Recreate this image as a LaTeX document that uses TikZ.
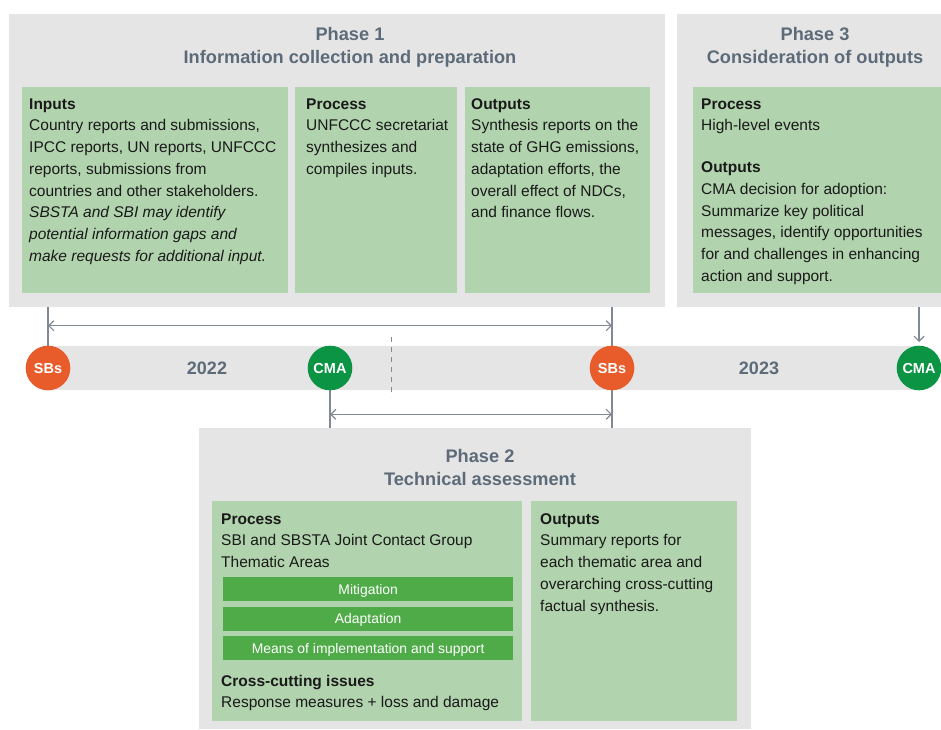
\documentclass[tikz,border=0pt]{standalone}
\usepackage{fontspec}
\setmainfont{Liberation Sans}
\usetikzlibrary{arrows.meta}

\definecolor{panelgray}{HTML}{E5E5E5}
\definecolor{cardgreen}{HTML}{B1D3AD}
\definecolor{bargreen}{HTML}{4EAB47}
\definecolor{sborange}{HTML}{E85C2C}
\definecolor{cmagreen}{HTML}{0B9444}
\definecolor{titlegray}{HTML}{5D6B79}
\definecolor{linkgray}{HTML}{808A95}
\definecolor{ink}{HTML}{1A1A1A}

% fixed-height first line, so a text block's top sits 12pt above its first baseline
\newcommand{\firstline}{\rule{0pt}{12pt}}

\begin{document}
\begin{tikzpicture}[x=1pt,y=-1pt,
  panel/.style={fill=panelgray, draw=none, anchor=north west, inner sep=0pt},
  card/.style={fill=cardgreen, draw=none, anchor=north west, inner sep=0pt},
  areabar/.style={fill=bargreen, draw=none, anchor=north west, inner sep=0pt,
    minimum width=290pt, minimum height=24pt, text=white,
    text height=10pt, text depth=0pt,
    font=\fontsize{13.9}{16}\selectfont},
  phasetitle/.style={anchor=base, inner sep=0pt, text=titlegray,
    font=\fontsize{18.2}{22}\selectfont\bfseries},
  body/.style={anchor=north west, inner sep=0pt, align=left, text=ink,
    font=\fontsize{15.5}{21.7}\selectfont},
  event/.style={circle, draw=none, minimum size=44.6pt, inner sep=0pt,
    text=white, font=\fontsize{14.5}{16}\selectfont\bfseries},
  year/.style={text=titlegray, inner sep=0pt, font=\fontsize{18}{20}\selectfont\bfseries},
  conn/.style={draw=linkgray, line width=1.2pt},
  barb/.tip={Straight Barb[length=5pt,width=10pt]}
]
\useasboundingbox (0,0) rectangle (941,729);

% ---- phase panels ----
\node[panel, minimum width=656pt, minimum height=293pt] (ph1) at (9,14) {};
\node[panel, minimum width=264pt, minimum height=293pt] (ph3) at (677,14) {};
\node[panel, minimum width=552pt, minimum height=301pt] (ph2) at (199,428) {};

% ---- green cards ----
\node[card, minimum width=266pt, minimum height=206pt] (inp1) at (22,87) {};
\node[card, minimum width=162pt, minimum height=206pt] (proc1) at (295,87) {};
\node[card, minimum width=185pt, minimum height=206pt] (out1) at (465,87) {};
\node[card, minimum width=248pt, minimum height=206pt] (proc3) at (693,87) {};
\node[card, minimum width=310pt, minimum height=220pt] (proc2) at (212,501) {};
\node[card, minimum width=206pt, minimum height=220pt] (out2) at (531,501) {};

% ---- thematic area bars ----
\node[areabar] (mit) at (223,577) {Mitigation};
\node[areabar] (ada) at (223,606.5) {Adaptation};
\node[areabar] (moi) at (223,636) {Means of implementation and support};

% ---- timeline band ----
\fill[panelgray] (48,346) rectangle (919,390);
\node[year] (y22) at (207,368) {2022};
\node[year] (y23) at (759,368) {2023};

% helper heights for the span arrows
\coordinate (ytop) at (0,325.7);
\coordinate (ybot) at (0,414.3);

% ---- event positions ----
\path (48,368) coordinate (sbA) (330,368) coordinate (cmaA)
      (612,368) coordinate (sbB) (919,368) coordinate (cmaB);

% ---- connectors ----
\draw[conn] (ph1.south -| sbA) -- (sbA);
\draw[conn] (ph1.south -| sbB) -- (ph2.north -| sbB);
\draw[conn] (cmaA) -- (ph2.north -| cmaA);
\draw[conn, barb-barb] (sbA |- ytop) -- (sbB |- ytop);
\draw[conn, barb-barb] (cmaA |- ybot) -- (sbB |- ybot);
\draw[conn, dashed, dash pattern=on 5pt off 5pt, line width=1pt] (391,337) -- (391,397);

% ---- event circles ----
\node[event, fill=sborange] (sb1) at (sbA) {SBs};
\node[event, fill=cmagreen] (cma1) at (cmaA) {CMA};
\node[event, fill=sborange] (sb2) at (sbB) {SBs};
\node[event, fill=cmagreen] (cma2) at (cmaB) {CMA};
\draw[conn, -barb] (ph3.south -| cma2) -- ([yshift=3.5pt]cma2.north);

% ---- phase titles ----
\node[phasetitle] (t1a) at (350,40.7) {Phase 1};
\node[phasetitle] (t1b) at (350,63.3) {Information collection and preparation};
\node[phasetitle] (t3a) at (815,40.7) {Phase 3};
\node[phasetitle] (t3b) at (815,63.3) {Consideration of outputs};
\node[phasetitle] (t2a) at (480,462) {Phase 2};
\node[phasetitle] (t2b) at (480,485) {Technical assessment};

% ---- card texts (first baseline = y + 12) ----
\node[body] (inptxt) at (29,97) {\firstline\textbf{Inputs}\\
  Country reports and submissions,\\
  IPCC reports, UN reports, UNFCCC\\
  reports, submissions from\\
  countries and other stakeholders.\\
  \textit{SBSTA and SBI may identify}\\
  \textit{potential information gaps and}\\
  \textit{make requests for additional input.}};

\node[body] (proc1txt) at (306,97) {\firstline\textbf{Process}\\
  UNFCCC secretariat\\
  synthesizes and\\
  compiles inputs.};

\node[body] (out1txt) at (471,97) {\firstline\textbf{Outputs}\\
  Synthesis reports on the\\
  state of GHG emissions,\\
  adaptation efforts, the\\
  overall effect of NDCs,\\
  and finance flows.};

\node[body] (proc3txt) at (701,97) {\firstline\textbf{Process}\\
  High-level events};
\node[body] (out3txt) at (701,160.5) {\firstline\textbf{Outputs}\\
  CMA decision for adoption:\\
  Summarize key political\\
  messages, identify opportunities\\
  for and challenges in enhancing\\
  action and support.};

\node[body] (proc2txt) at (221,512) {\firstline\textbf{Process}\\
  SBI and SBSTA Joint Contact Group\\
  Thematic Areas};
\node[body] (crosstxt) at (221,674) {\firstline\textbf{Cross-cutting issues}\\
  Response measures + loss and damage};

\node[body] (out2txt) at (540,512) {\firstline\textbf{Outputs}\\
  Summary reports for\\
  each thematic area and\\
  overarching cross-cutting\\
  factual synthesis.};
\end{tikzpicture}
\end{document}
